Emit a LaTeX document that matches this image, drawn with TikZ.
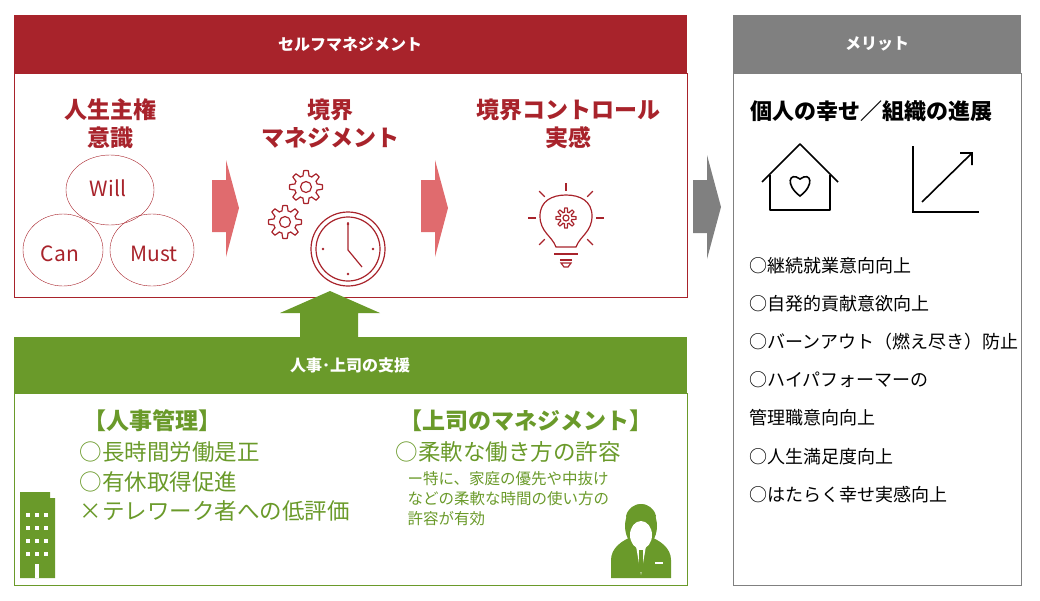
\documentclass[tikz,border=0pt]{standalone}
\usepackage{fontspec}
\setmainfont{Noto Sans CJK JP}
\usetikzlibrary{positioning, calc}
\definecolor{smred}{HTML}{A8232B}
\definecolor{smpink}{HTML}{E06B6E}
\definecolor{smgreen}{HTML}{6A9A2A}
\definecolor{smgray}{HTML}{808080}
\begin{document}
\begin{tikzpicture}
    [
        x=1pt, y=-1pt,
        head_box/.style={draw=none, text=white, font=\fontsize{16}{16}\selectfont\bfseries},
        red_title/.style={text=smred, font=\fontsize{23}{28}\selectfont\bfseries, align=center},
        green_title/.style={text=smgreen, font=\fontsize{23}{23}\selectfont\bfseries, anchor=west},
        green_item/.style={text=smgreen, font=\fontsize{22.5}{22.5}\selectfont, anchor=west},
        merit_item/.style={font=\fontsize{18}{18}\selectfont, anchor=west},
        icon_red/.style={draw=smred, line width=1.2pt},
        icon_dark/.style={draw=black, line width=1.6pt},
    ]
        \useasboundingbox (0,0) rectangle (1040,600);
        % frames
        \fill[smred] (14,15) rectangle (687,73);
        \draw[smred] (14,73) rectangle (687,297);
        \fill[smgray] (733,15) rectangle (1021,73);
        \draw[smgray] (733,73) rectangle (1021,585);
        \fill[smgreen] (14,337) rectangle (687,393);
        \draw[smgreen] (14,393) rectangle (687,585);
        \node[head_box] (self) at (350,44) {セルフマネジメント};
        \node[head_box] (merit) at (877,44) {メリット};
        \node[head_box] (support) at (350,365) {人事･上司の支援};
        % arrows
        \foreach \ax/\col in {212/smpink, 421/smpink} {
            \fill[\col] (\ax,180) -- (\ax+14,180) -- (\ax+14,160) -- (\ax+27,208) -- (\ax+14,257) -- (\ax+14,232) -- (\ax,232) -- cycle;
        }
        \fill[smgray] (693,180) -- (707,180) -- (707,155) -- (721,207) -- (707,259) -- (707,233) -- (693,233) -- cycle;
        \fill[smgreen] (300,337) -- (300,313) -- (280,313) -- (330,291) -- (380,313) -- (358,313) -- (358,337) -- cycle;
        % titles
        \node[red_title] (will) at (110,124) {人生主権\\意識};
        \node[red_title] (border) at (330,124) {境界\\マネジメント};
        \node[red_title] (control) at (568,124) {境界コントロール\\実感};
        % venn
        \draw[smred, thin] (110,190) ellipse (44 and 35);
        \draw[smred, thin] (63,250) ellipse (40 and 36);
        \draw[smred, thin] (152,250) ellipse (42 and 36);
        \node[text=smred, font=\fontsize{21}{21}\selectfont] (w) at (108,188) {Will};
        \node[text=smred, font=\fontsize{21}{21}\selectfont] (c) at (60,254) {Can};
        \node[text=smred, font=\fontsize{21}{21}\selectfont] (m) at (154,254) {Must};
        % gears and clock
        \foreach \gx/\gy in {306/187, 285/222} {
            \draw[icon_red] (\gx,\gy) circle (5.5);
            \draw[icon_red] plot[domain=0:360, samples=97, smooth cycle] ({\gx+(14+2.5*sign(cos(8*\x)))*cos(\x)}, {\gy+(14+2.5*sign(cos(8*\x)))*sin(\x)});
        }
        \draw[icon_red] (348,249) circle (37) (348,249) circle (32);
        \draw[icon_red] (348,222) -- (348,250) -- (362,267);
        \foreach \d in {0,90,180,270} \fill[smred] ($(348,249)+(\d:25)$) circle (1.4);
        % bulb
        \draw[icon_red] (556,247) .. controls (552,236) and (540,232) .. (540,216) .. controls (540,201) and (552,195) .. (566,195) .. controls (580,195) and (592,201) .. (592,216) .. controls (592,232) and (580,236) .. (576,247) -- cycle;
        \draw[icon_red] (554,254) -- (578,254) (560,260) -- (572,260);
        \draw[icon_red] (561,263) -- (571,263) -- (568,267) -- (564,267) -- cycle;
        \draw[icon_red] plot[domain=0:360, samples=97, smooth cycle] ({566+(8+2*sign(cos(8*\x)))*cos(\x)}, {218+(8+2*sign(cos(8*\x)))*sin(\x)});
        \draw[icon_red] (566,218) circle (3);
        \foreach \d in {0,45,135,180,225,315} \draw[icon_red] ($(566,218)+(\d:30)$) -- ($(566,218)+(\d:38)$);
        \draw[icon_red] (566,183) -- (566,191);
        % merit
        \node[font=\fontsize{22}{22}\selectfont\bfseries] (happy) at (871,111) {個人の幸せ／組織の進展};
        \draw[icon_dark, line join=round] (762,182) -- (800,144) -- (838,182) (770,175) -- (770,210) -- (830,210) -- (830,175);
        \draw[icon_dark] (800,196) .. controls (785,185) and (789,171) .. (800,179) .. controls (811,171) and (815,185) .. (800,196) -- cycle;
        \draw[icon_dark] (913,146) -- (913,212) -- (979,212);
        \draw[icon_dark] (922,202) -- (972,153) (960,153) -- (972,153) -- (972,165);
        \foreach \t [count=\i] in {○継続就業意向向上, ○自発的貢献意欲向上, ○バーンアウト（燃え尽き）防止, ○ハイパフォーマーの, 管理職意向向上, ○人生満足度向上, ○はたらく幸せ実感向上} {
            \node[merit_item] (m\i) at (746,227+38.2*\i) {\t};
        }
        % support
        \node[green_title] (hr) at (80,421) {【人事管理】};
        \node[green_item] (hr1) at (76,452) {○長時間労働是正};
        \node[green_item] (hr2) at (76,482) {○有休取得促進};
        \node[green_item] (hr3) at (76,511) {×テレワーク者への低評価};
        \node[green_title] (boss) at (396,421) {【上司のマネジメント】};
        \node[green_item] (boss1) at (392,452) {○柔軟な働き方の許容};
        \node[text=smgreen, font=\fontsize{15.5}{20}\selectfont, align=left, anchor=north west] (note) at (404,468) {ー特に、家庭の優先や中抜け\\などの柔軟な時間の使い方の\\許容が有効};
        % building
        \fill[smgreen] (20,578) -- (20,492) -- (50,492) -- (50,498) -- (55,498) -- (55,578) -- cycle;
        \foreach \bx in {26,35,44} \foreach \by in {513,526,539,552} \fill[white] (\bx,\by) rectangle (\bx+4,\by+4);
        \fill[white] (35,564) rectangle (39,578);
        % person
        \fill[smgreen] (611,578) -- (611,560) .. controls (611,548) and (622,540) .. (634,536) -- (648,536) .. controls (660,540) and (671,548) .. (671,560) -- (671,578) -- cycle;
        \fill[smgreen] (641,526) ellipse (16 and 22);
        \fill[white] (641,535) ellipse (11 and 14);
        \fill[smgreen] (626,516) .. controls (630,500) and (652,500) .. (656,516) -- (652,522) .. controls (644,516) and (636,520) .. (630,526) -- cycle;
        \fill[white] (636,546) -- (646,546) -- (641,575) -- cycle;
        \fill[smgreen] (639,550) rectangle (643,572);
        \fill[white] (655,562) rectangle (663,564);
    \end{tikzpicture}
\end{document}
